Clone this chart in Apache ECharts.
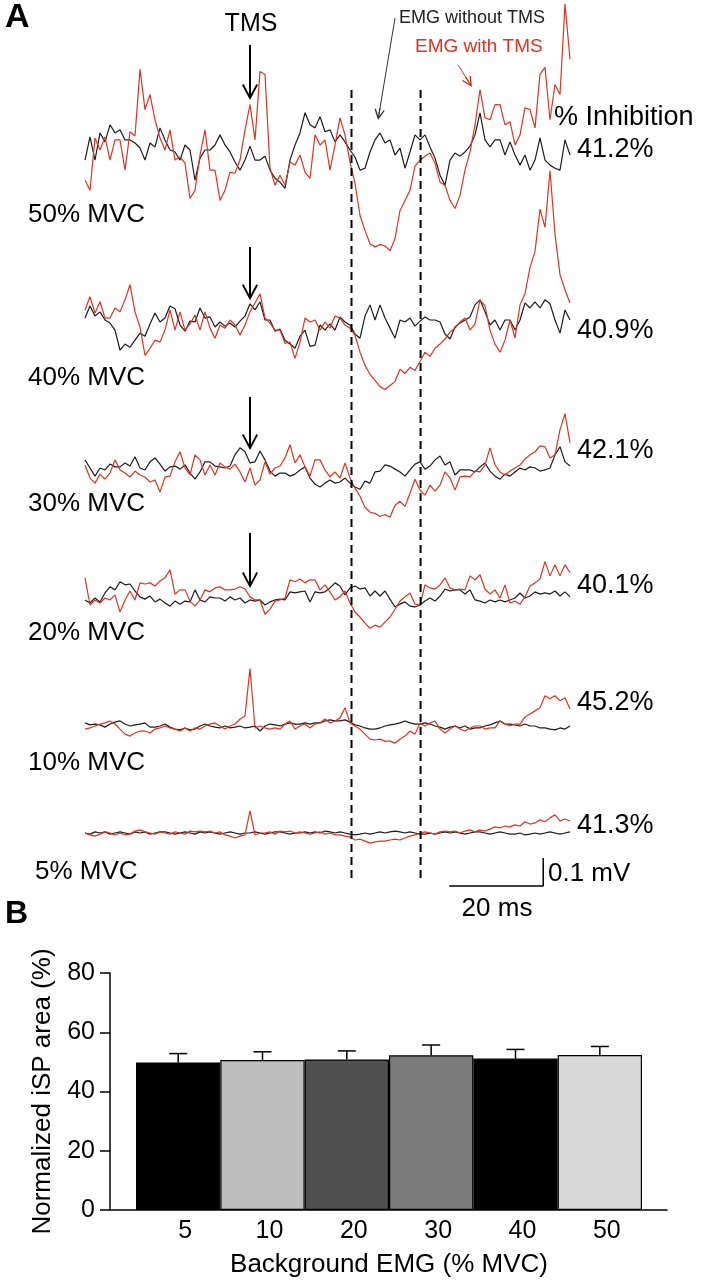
<!DOCTYPE html>
<html>
<head>
<meta charset="UTF-8">
<title>iSP and background EMG</title>
<script src="https://cdn.jsdelivr.net/npm/echarts@6/dist/echarts.min.js"></script>
<style>
  html, body { margin: 0; padding: 0; background: #fff; }
  #chart { width: 702px; height: 1280px; }
</style>
</head>
<body>
<div id="chart"></div>
<script>
// ---------- data ----------
var sampleMs = 1.064;          // time between samples (ms)
var tmsIndex = 33;             // sample at which TMS is given
var mvcLevels = [50, 40, 30, 20, 10, 5];
var inhibition = [41.2, 40.9, 42.1, 40.1, 45.2, 41.3];
var silentWindow = [21.6, 36.3];   // ms after TMS (dashed lines)
var scaleMs = 20, scaleUv = 100;

// EMG traces in µV, one value per sample
var emgNoTms50 = [-36, 47, -36, 61, 29, 90, 61, 72, 36, 36,
  25, 7, -36, 25, 11, 79, 36, 0, -7, -36,
  18, 0, -108, -29, 0, 0, 18, 54, 18, -7,
  -43, -72, -36, 14, -36, -36, -22, -72, -101, -115,
  -137, -36, 18, 61, 133, 90, 79, 119, 65, 72,
  29, 54, 29, 0, -25, -72, -65, -7, 36, 61,
  25, 36, -18, 7, -65, -7, 54, 36, 54, 11,
  -29, -90, -126, -36, -11, -22, -7, 14, 54, 133,
  36, 11, 36, 36, -18, 29, -18, -54, -18, -72,
  -36, 43, -36, -54, -65, -72, 36, -18];
var emgTms50 = [-108, -144, 43, 0, 47, -36, 36, 36, -72, 65,
  50, 288, 144, 198, 108, 43, 0, 72, -36, -25,
  -47, -173, -144, -18, 72, -72, -72, -180, -144, -79,
  -83, -36, 72, 162, 36, 280, 270, -65, -126, -90,
  -126, -43, -54, -18, -79, -101, 54, 18, 36, -72,
  18, 115, 54, -43, -119, -234, -288, -335, -346, -338,
  -342, -360, -317, -216, -180, -144, -58, -36, -22, -11,
  -47, -115, -126, -180, -209, -162, -72, -7, 90, 216,
  115, 108, 162, 162, 90, 101, 18, 54, 151, 144,
  79, 270, 295, 108, 234, 198, 522, 324];
var emgNoTms40 = [7, 50, 14, 29, 0, -11, -36, -108, -86, -97,
  -72, -47, -58, -14, 25, -7, 7, 50, 40, -18,
  -40, -4, -7, 43, 7, 11, -25, -7, -22, -11,
  -25, -4, 14, 58, 36, 65, 0, 0, -40, -32,
  -72, -86, -101, -58, -36, -94, -90, -18, -36, -14,
  -36, 11, -7, -18, -50, -65, 14, 54, 0, 54,
  7, -29, -65, 0, -7, 7, -22, -4, 11, 0,
  0, -7, -50, -68, -25, -11, 0, 11, 54, 72,
  29, -18, 0, -36, 0, 0, -36, 0, 61, 43,
  65, 43, 72, 58, 0, -47, 36, 0];
var emgTms40 = [36, 83, 25, 65, 7, 7, 43, 29, 72, 126,
  29, -25, -126, -101, -72, -79, -36, 36, -36, 29,
  -36, -14, 18, -36, 29, -29, -65, -18, -29, 0,
  -18, -54, -18, 29, 61, 94, 7, -11, -36, -36,
  -83, -79, -137, -79, 7, -7, 0, -36, -7, -29,
  14, 7, -18, -29, -54, -115, -162, -194, -216, -238,
  -248, -234, -220, -176, -191, -169, -180, -148, -115, -130,
  -101, -86, -68, -43, -29, -7, 7, -36, -14, 72,
  50, -36, -86, -115, -72, 0, -65, 54, 94, 187,
  245, 396, 331, 533, 306, 162, 108, 61];
var emgNoTms30 = [29, 0, -29, 0, -7, 14, 4, 4, 18, 7,
  40, 0, -7, 22, 36, 14, -11, 4, 7, -4,
  11, -18, -40, -14, 22, 22, 7, 4, 0, 7,
  47, 72, 58, 18, 22, 61, 29, -11, -29, -18,
  -18, -29, -22, -7, 4, -36, -58, -68, -54, -43,
  -54, -50, -36, -54, -68, -76, -47, -54, -14, -11,
  11, 7, -4, -14, -29, -7, 14, 22, -4, 7,
  29, 43, 11, 22, -25, -7, -7, -7, -14, 4,
  18, -11, -29, -40, -22, -29, -14, 0, -7, 4,
  0, -11, -7, 0, 47, 76, 22, 7];
var emgTms30 = [11, -36, -54, -22, -40, -18, 29, -7, -18, -32,
  -11, -25, -32, -50, -43, -86, -32, -29, 22, 58,
  0, -25, 47, 29, -25, 11, -25, 18, 4, -4,
  14, -14, -50, 0, -61, -43, 22, -22, 0, 7,
  36, 83, 18, 47, 4, -29, 29, 29, -7, -32,
  -14, -36, 18, -36, -72, -101, -140, -158, -162, -173,
  -166, -176, -133, -119, -137, -90, -40, -79, -97, -61,
  -83, -61, -14, -36, -79, -32, -29, -32, -11, -14,
  11, 72, 11, -14, -25, -11, 0, 11, 32, 47,
  58, 79, 76, 36, 47, 137, 194, 90];
var emgNoTms20 = [-7, -18, 0, -14, 18, 40, 29, 58, 47, 50,
  25, 4, -4, 7, -14, -4, -18, -29, -11, -22,
  -11, -14, 29, -7, -14, 4, 0, 0, -11, 4,
  -7, 0, -18, -7, -11, -7, -25, -14, -7, -4,
  -7, 22, 18, 22, 25, -14, 22, 18, 22, 36,
  54, 43, 11, 36, 43, 32, 36, 7, 25, 7,
  25, -4, -32, -22, -14, -29, -32, -25, -11, 0,
  -11, 7, 32, 25, 29, 29, 14, 29, -7, -11,
  -18, -7, -14, -7, -14, -7, 0, 18, 0, 7,
  22, 14, 18, 14, 25, 7, 22, 4];
var emgTms20 = [72, -25, -7, -18, 0, -7, 11, -50, -7, 25,
  -7, 54, 50, 54, 43, 61, 72, 101, 14, 29,
  29, -11, -29, -7, 29, 22, 36, 40, 29, 29,
  32, 40, 32, 4, -7, -7, -58, -40, -11, -7,
  0, 65, 58, 68, 54, 65, 65, 29, 47, 22,
  -7, 4, 25, -18, -50, -68, -90, -108, -97, -104,
  -86, -68, -40, -11, 4, 18, -22, -25, 47, 36,
  32, 47, 72, 36, 29, 32, 29, 79, 65, 83,
  32, 14, 29, 0, 47, -18, -11, -22, 4, 43,
  54, 68, 130, 79, 119, 79, 119, 90];
var emgNoTms10 = [11, 4, 7, 4, -4, 7, 14, 18, 7, 0,
  4, 7, 11, -4, -4, 0, 7, -4, -11, -14,
  -7, -14, -11, 0, 7, 0, -4, -7, 0, -7,
  -4, 0, -7, -4, 0, -18, 0, 7, 4, 0,
  7, 11, 7, 7, 11, 7, 11, 11, 18, 22,
  18, 18, 22, 14, 4, 0, -7, -11, -11, -7,
  0, 4, 7, 11, 18, 11, 7, 7, 11, 7,
  0, -4, -11, -4, 0, -7, 0, -11, -7, -7,
  0, 4, 11, 18, 7, 7, 4, 0, 7, 0,
  0, -7, -7, -11, -14, -7, -11, 0];
var emgTms10 = [-11, -7, 0, 7, 11, 18, 7, -11, -29, -36,
  -25, -18, -18, -25, -11, -7, 0, -7, -11, -18,
  -7, -18, -7, -11, 0, 7, 11, 0, -11, 0,
  7, 25, 36, 205, -7, 0, -7, -11, -7, -11,
  7, 18, -11, 0, 7, -7, 7, 11, 25, 11,
  18, 29, 65, 11, 0, -11, -29, -47, -50, -47,
  -54, -54, -61, -47, -36, -18, -29, 11, 0, 11,
  18, -11, -25, -11, 0, -11, -18, -7, 0, 0,
  -11, -7, -7, 18, 7, 0, 7, 7, 32, 43,
  54, 65, 108, 97, 108, 90, 101, 61];
var emgNoTms5 = [0, -4, 4, 0, 4, -4, 0, 4, 0, -4,
  4, 0, 4, -4, 0, 4, 4, 0, -4, 0,
  4, 0, -4, 4, 0, 4, 0, -4, 0, 4,
  0, -4, 0, 0, 4, 0, -4, 0, 4, 4,
  0, -4, 0, 0, 4, 0, 4, 0, 7, 4,
  0, 4, 0, -4, -7, -4, 0, -4, 0, 4,
  0, 4, 7, 4, 0, 4, 0, -4, -4, 0,
  -4, 0, 4, 0, 4, 0, -4, 0, 4, 4,
  0, -4, 0, 4, 0, -4, -4, 0, -7, -4,
  0, -4, 0, 4, 0, -4, 0, 4];
var emgTms5 = [0, -7, -11, -4, 4, 0, -7, 0, -7, -4,
  7, 11, 4, 0, -4, 4, 0, -4, 4, 0,
  -4, 7, 4, 7, 4, 7, 0, 4, -7, -11,
  -18, -11, -7, 79, -7, 0, 0, 4, -4, 7,
  4, 7, 0, 4, 0, -4, 0, 4, -4, 0,
  -7, -7, -11, -14, -25, -22, -29, -36, -32, -29,
  -29, -25, -22, -25, -18, -11, -7, 0, 4, 0,
  -4, 4, 7, 4, 7, 0, 7, 11, 4, 11,
  7, 14, 22, 18, 25, 22, 29, 25, 40, 32,
  36, 47, 40, 54, 65, 43, 50, 43];

// panel B
var bgLevels = ['5', '10', '20', '30', '40', '50'];
var ispArea = [49.8, 50.6, 50.8, 52.2, 51.1, 52.3];
var ispSem = [3.0, 2.8, 2.9, 3.5, 3.1, 2.9];

// ---------- layout / style ----------
var FONT = "'Liberation Sans', Arial, Helvetica, sans-serif";
var RED = '#e3321f', INK = '#1c1c1c';
var rowBase = [150, 320, 468, 598, 726, 833];   // px, trace baselines
var pctY = [150, 331, 451, 586, 703, 826];
var mvcY = [215, 378, 504, 633, 763, 872];
var mvcX = [28, 28, 28, 28, 28, 35];
var uvHalf = 500, rowHalf = 140;                 // 100 uV = 28 px
var tmsArrow = [[375, 211], [261, 103], [254, 96], [232, 68]];  // uV, start / end
var barColors = ['#000000', '#bdbdbd', '#505050', '#7b7b7b', '#000000', '#d8d8d8'];

var chevron = 'path://M8,0 L16,15 L14.4,16 L9,5.8 L9,18 L7,18 L7,5.8 L1.6,16 L0,15 Z';
var chevronThin = 'path://M5,0 L10,10 L9,11 L5.6,4.2 L5.6,12 L4.4,12 L4.4,4.2 L1,11 L0,10 Z';

var noTms = [emgNoTms50, emgNoTms40, emgNoTms30, emgNoTms20, emgNoTms10, emgNoTms5];
var withTms = [emgTms50, emgTms40, emgTms30, emgTms20, emgTms10, emgTms5];
var xMin = -tmsIndex * sampleMs;
var xMax = (emgNoTms50.length - 1 - tmsIndex) * sampleMs;

function toPoints(arr) {
  return arr.map(function (v, k) { return [(k - tmsIndex) * sampleMs, v]; });
}

var grids = [], xAxes = [], yAxes = [], series = [];

mvcLevels.forEach(function (lvl, i) {
  grids.push({ left: 85, width: 485, top: rowBase[i] - rowHalf, height: rowHalf * 2 });
  xAxes.push({ gridIndex: i, type: 'value', min: xMin, max: xMax, show: false });
  yAxes.push({ gridIndex: i, type: 'value', min: -uvHalf, max: uvHalf, show: false });

  var black = {
    name: lvl + '% without TMS', type: 'line', xAxisIndex: i, yAxisIndex: i,
    data: toPoints(noTms[i]), showSymbol: false, clip: false, z: 2,
    lineStyle: { color: INK, width: 1.2 }
  };
  var red = {
    name: lvl + '% with TMS', type: 'line', xAxisIndex: i, yAxisIndex: i,
    data: toPoints(withTms[i]), showSymbol: false, clip: false, z: 3,
    lineStyle: { color: RED, width: 1.2 }
  };
  if (i < 4) {
    var arrows = [[{ coord: [0, tmsArrow[i][0]], symbol: 'none' },
                   { coord: [0, tmsArrow[i][1]], symbol: chevron, symbolSize: [16, 18] }]];
    if (i === 0) {
      arrows.push([{ coord: [30.86, 471], symbol: 'none', lineStyle: { color: '#333', width: 1 } },
                   { coord: [27.45, 128], symbol: chevronThin, symbolSize: [10, 12] }]);
    }
    black.markLine = {
      silent: true, animation: false, label: { show: false },
      lineStyle: { color: '#000', width: 2, type: 'solid' },
      emphasis: { disabled: true }, data: arrows
    };
  }
  if (i === 0) {
    red.markLine = {
      silent: true, animation: false, label: { show: false },
      lineStyle: { color: RED, width: 1, type: 'solid' },
      emphasis: { disabled: true },
      data: [[{ coord: [44.27, 304], symbol: 'none' },
              { coord: [46.56, 243], symbol: chevronThin, symbolSize: [10, 12] }]]
    };
  }
  series.push(black, red);
});

// scale bar, drawn in the 5% row
series.push({
  type: 'line', xAxisIndex: 5, yAxisIndex: 5, showSymbol: false, clip: false,
  lineStyle: { color: '#000', width: 1.5 },
  data: [[62.4 - scaleMs, -189], [62.4, -189], [62.4, -189 + scaleUv]]
});

// dashed lines of the silent-period window, over all rows
grids.push({ left: 85, width: 485, top: 88, height: 790 });
xAxes.push({ gridIndex: 6, type: 'value', min: xMin, max: xMax, show: false });
yAxes.push({ gridIndex: 6, type: 'value', min: 0, max: 1, show: false });
silentWindow.forEach(function (t) {
  series.push({
    type: 'line', xAxisIndex: 6, yAxisIndex: 6, showSymbol: false,
    lineStyle: { color: '#000', width: 2, type: [8, 5] },
    data: [[t, 0], [t, 1]]
  });
});

// panel B: bars
grids.push({ left: 136, right: 60, top: 973, bottom: 70 });
xAxes.push({
  gridIndex: 7, type: 'category', data: bgLevels,
  axisLine: { show: false }, axisTick: { show: false },
  axisLabel: { fontSize: 25, color: '#000', margin: 9, fontFamily: FONT, padding: [0, 0, 0, 14] },
  name: 'Background EMG (% MVC)', nameLocation: 'middle', nameGap: 42,
  nameTextStyle: { fontSize: 26, color: '#000', fontFamily: FONT }
});
yAxes.push({ gridIndex: 7, type: 'value', min: 0, max: 80, show: false });

grids.push({ left: 110, right: 35, top: 973, bottom: 70 });
xAxes.push({
  gridIndex: 8, type: 'value', min: 0, max: 1,
  axisLine: { show: true, lineStyle: { color: '#000', width: 1.5 } },
  axisTick: { show: false }, axisLabel: { show: false }, splitLine: { show: false }
});
yAxes.push({
  gridIndex: 8, type: 'value', min: 0, max: 80, interval: 20,
  axisLine: { show: true, lineStyle: { color: '#000', width: 1.5 } },
  axisTick: { show: true, length: 10, lineStyle: { color: '#000', width: 1.5 } },
  axisLabel: { fontSize: 25, color: '#000', margin: 15, fontFamily: FONT },
  splitLine: { show: false },
  name: 'Normalized iSP area (%)', nameLocation: 'middle', nameRotate: 90, nameGap: 50,
  nameTextStyle: { fontSize: 26, color: '#000', fontFamily: FONT }
});

series.push({
  type: 'bar', xAxisIndex: 7, yAxisIndex: 7, barCategoryGap: '0%',
  itemStyle: { borderColor: '#000', borderWidth: 1.2 },
  data: ispArea.map(function (v, i) { return { value: v, itemStyle: { color: barColors[i] } }; })
});
series.push({
  type: 'custom', xAxisIndex: 7, yAxisIndex: 7, z: 5,
  data: ispArea.map(function (v, i) { return [i, v, v + ispSem[i]]; }),
  renderItem: function (params, api) {
    var lo = api.coord([api.value(0), api.value(1)]);
    var hi = api.coord([api.value(0), api.value(2)]);
    var st = { stroke: '#000', lineWidth: 1.5 };
    return {
      type: 'group', children: [
        { type: 'line', shape: { x1: lo[0], y1: lo[1], x2: hi[0], y2: hi[1] }, style: st },
        { type: 'line', shape: { x1: hi[0] - 9, y1: hi[1], x2: hi[0] + 9, y2: hi[1] }, style: st }
      ]
    };
  }
});

// ---------- text ----------
function label(text, x, y, size, align, extra) {
  var st = {
    text: text, fontSize: size, fontFamily: FONT, fill: '#000',
    align: align, verticalAlign: 'middle', textAlign: align, textVerticalAlign: 'middle'
  };
  for (var k in (extra || {})) st[k] = extra[k];
  return { type: 'text', x: x, y: y, silent: true, style: st };
}
var texts = [
  label('A', 5, 18, 34, 'left', { fontWeight: 'bold' }),
  label('B', 5, 914, 32, 'left', { fontWeight: 'bold' }),
  label('TMS', 251, 24, 25, 'center'),
  label('EMG without TMS', 399, 18, 18, 'left', { fill: '#222' }),
  label('EMG with TMS', 415, 47, 19, 'left', { fill: RED }),
  label('% Inhibition', 554, 118, 27, 'left'),
  label('20 ms', 497, 909, 26, 'center'),
  label('0.1 mV', 548, 874, 26, 'left')
];
mvcLevels.forEach(function (lvl, i) {
  texts.push(label(lvl + '% MVC', mvcX[i], mvcY[i], 26, 'left'));
  texts.push(label(inhibition[i].toFixed(1) + '%', 577, pctY[i], 27, 'left'));
});

var chart = echarts.init(document.getElementById('chart'));
chart.setOption({
  animation: false,
  backgroundColor: '#fff',
  textStyle: { fontFamily: FONT },
  grid: grids,
  xAxis: xAxes,
  yAxis: yAxes,
  series: series,
  graphic: { elements: texts }
});
</script>
</body>
</html>
